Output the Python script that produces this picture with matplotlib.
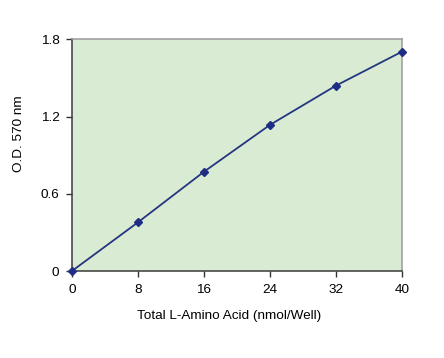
import matplotlib
matplotlib.use("Agg")
import matplotlib.pyplot as plt

# values
amino_acid = [0, 8, 16, 24, 32, 40]
od570 = [0.0, 0.378, 0.771, 1.135, 1.44, 1.704]
x_ticks = [0, 8, 16, 24, 32, 40]
y_ticks = [0, 0.6, 1.2, 1.8]
y_tick_labels = ['0', '0.6', '1.2', '1.8']

plt.rcParams['font.family'] = ['Liberation Sans', 'DejaVu Sans']

fig = plt.figure(figsize=(4.44, 3.58), dpi=100)
ax = fig.add_axes([0.162, 0.243, 0.743, 0.647])
ax.set_facecolor('#d9ecd3')

ax.plot(amino_acid, od570, color='#253580', linewidth=1.3,
        marker='D', markersize=4, markerfacecolor='#1f2d85',
        markeredgecolor='#1f2d85', clip_on=False, zorder=3)

ax.set_xlim(0, 40)
ax.set_ylim(0, 1.8)
ax.set_xticks(x_ticks)
ax.set_xticklabels([str(v) for v in x_ticks])
ax.set_yticks(y_ticks)
ax.set_yticklabels(y_tick_labels)
ax.tick_params(direction='out', length=4, width=1, color='#333333',
               labelsize=9.7, pad=5)

for side in ['left', 'bottom']:
    ax.spines[side].set_color('#3a3a3a')
    ax.spines[side].set_linewidth(1.1)
for side in ['top', 'right']:
    ax.spines[side].set_color('#9a9a9a')
    ax.spines[side].set_linewidth(1.1)

ax.set_xlabel('Total L-Amino Acid (nmol/Well)', fontsize=9.7)
ax.xaxis.set_label_coords(0.476, -0.168)
ax.set_ylabel('O.D. 570 nm', fontsize=9.7)
ax.yaxis.set_label_coords(-0.142, 0.592)

plt.savefig('out.png', dpi=100)
